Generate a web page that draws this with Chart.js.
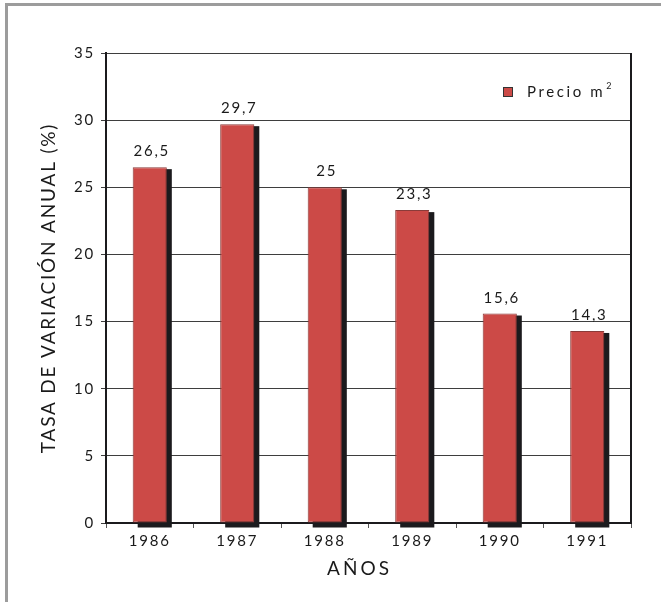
<!DOCTYPE html>
<html>
<head>
<meta charset="utf-8">
<script src="https://cdn.jsdelivr.net/npm/chart.js@4.4.1/dist/chart.umd.min.js"></script>
<style>
    html, body { margin: 0; padding: 0; background: #fff; overflow: hidden; }
    #wrap { position: relative; width: 661px; height: 602px; }
    #frame {
        position: absolute; left: 5px; top: 3px; width: 700px; height: 700px;
        border-left: 3px solid #9c9c9c; border-top: 3px solid #9c9c9c;
        pointer-events: none;
    }
</style>
</head>
<body>
<div id="wrap">
    <canvas id="chart" width="661" height="602"></canvas>
    <div id="frame"></div>
</div>
<script>
const years = ['1986', '1987', '1988', '1989', '1990', '1991'];
const precioM2 = [26.5, 29.7, 25, 23.3, 15.6, 14.3];
const seriesName = 'Precio m';
const yTicks = [0, 5, 10, 15, 20, 25, 30, 35];
const xTitle = 'AÑOS';

const FONT = 'Lato, "Open Sans", sans-serif';
const RED = '#cc4a47';
const DARK = '#1b1a1d';

// canvas letter spacing (Gill Sans style look)
const spacingPlugin = {
    id: 'spacing',
    beforeLayout(chart) { chart.ctx.letterSpacing = '1.8px'; },
    beforeDraw(chart) { chart.ctx.letterSpacing = '1.8px'; }
};

// dark drop shadow behind each bar, values above, legend, x title
const barDecor = {
    id: 'barDecor',
    beforeDatasetsDraw(chart) {
        const ctx = chart.ctx;
        const meta = chart.getDatasetMeta(0);
        ctx.save();
        ctx.fillStyle = DARK;
        meta.data.forEach(bar => {
            const w = bar.width;
            ctx.fillRect(bar.x - w / 2 + 5, bar.y + 2, w, bar.base - bar.y + 3);
        });
        ctx.restore();
    },
    afterDatasetsDraw(chart) {
        const ctx = chart.ctx;
        const meta = chart.getDatasetMeta(0);
        const a = chart.chartArea;
        ctx.save();
        ctx.letterSpacing = '1.8px';
        ctx.font = '15px ' + FONT;
        ctx.fillStyle = '#1a1a1a';
        ctx.textAlign = 'center';
        ctx.textBaseline = 'alphabetic';
        meta.data.forEach((bar, i) => {
            const txt = String(precioM2[i]).replace('.', ',');
            ctx.fillText(txt, bar.x + 2, bar.y - 11);
        });

        // x axis title
        ctx.font = '19px ' + FONT;
        ctx.letterSpacing = '3px';
        ctx.fillText(xTitle, (a.left + a.right) / 2 - 9, a.bottom + 52);

        // plot frame right side
        ctx.strokeStyle = DARK;
        ctx.lineWidth = 2;
        ctx.beginPath();
        ctx.moveTo(a.right, a.top);
        ctx.lineTo(a.right, a.bottom);
        ctx.stroke();

        // legend inside plot
        const lx = a.right - 128;
        const ly = a.top + 34;
        ctx.fillStyle = RED;
        ctx.fillRect(lx, ly, 10, 10);
        ctx.strokeStyle = '#333';
        ctx.lineWidth = 1;
        ctx.strokeRect(lx + 0.5, ly + 0.5, 9, 9);
        ctx.fillStyle = '#1a1a1a';
        ctx.textAlign = 'left';
        ctx.letterSpacing = '2.6px';
        ctx.font = '15px ' + FONT;
        ctx.fillText(seriesName, lx + 24, ly + 10);
        const tw = ctx.measureText(seriesName).width;
        ctx.font = '9px ' + FONT;
        ctx.fillText('2', lx + 24 + tw + 1, ly + 2);
        ctx.restore();
    }
};

new Chart(document.getElementById('chart'), {
    type: 'bar',
    data: {
        labels: years,
        datasets: [{
            label: seriesName,
            data: precioM2,
            backgroundColor: RED,
            borderColor: '#8a3b39',
            borderWidth: 1,
            borderSkipped: false,
            categoryPercentage: 1,
            barPercentage: 0.39
        }]
    },
    options: {
        responsive: false,
        animation: false,
        layout: { padding: { left: 0, top: 53, right: 30, bottom: 0 } },
        plugins: {
            legend: { display: false },
            tooltip: { enabled: false }
        },
        scales: {
            x: {
                afterFit(scale) { scale.height = 79; },
                grid: { drawOnChartArea: false, drawTicks: true, tickLength: 5, color: '#555', offset: true },
                border: { color: DARK, width: 2 },
                ticks: { color: '#1a1a1a', font: { family: FONT, size: 15 }, padding: 4 },
                title: { display: false }
            },
            y: {
                min: 0,
                max: 35,
                afterFit(scale) { scale.width = 106; },
                afterBuildTicks(scale) { scale.ticks = yTicks.map(v => ({ value: v })); },
                grid: { color: '#3e3e3e', lineWidth: 1, drawTicks: true, tickLength: 5 },
                border: { color: DARK, width: 2 },
                ticks: { color: '#1a1a1a', font: { family: FONT, size: 15 }, padding: 6 },
                title: {
                    display: true, text: 'TASA DE VARIACIÓN ANUAL (%)', color: '#1a1a1a',
                    font: { family: FONT, size: 19 }, padding: { top: 37, bottom: 0 }
                }
            }
        }
    },
    plugins: [spacingPlugin, barDecor]
});
</script>
</body>
</html>
